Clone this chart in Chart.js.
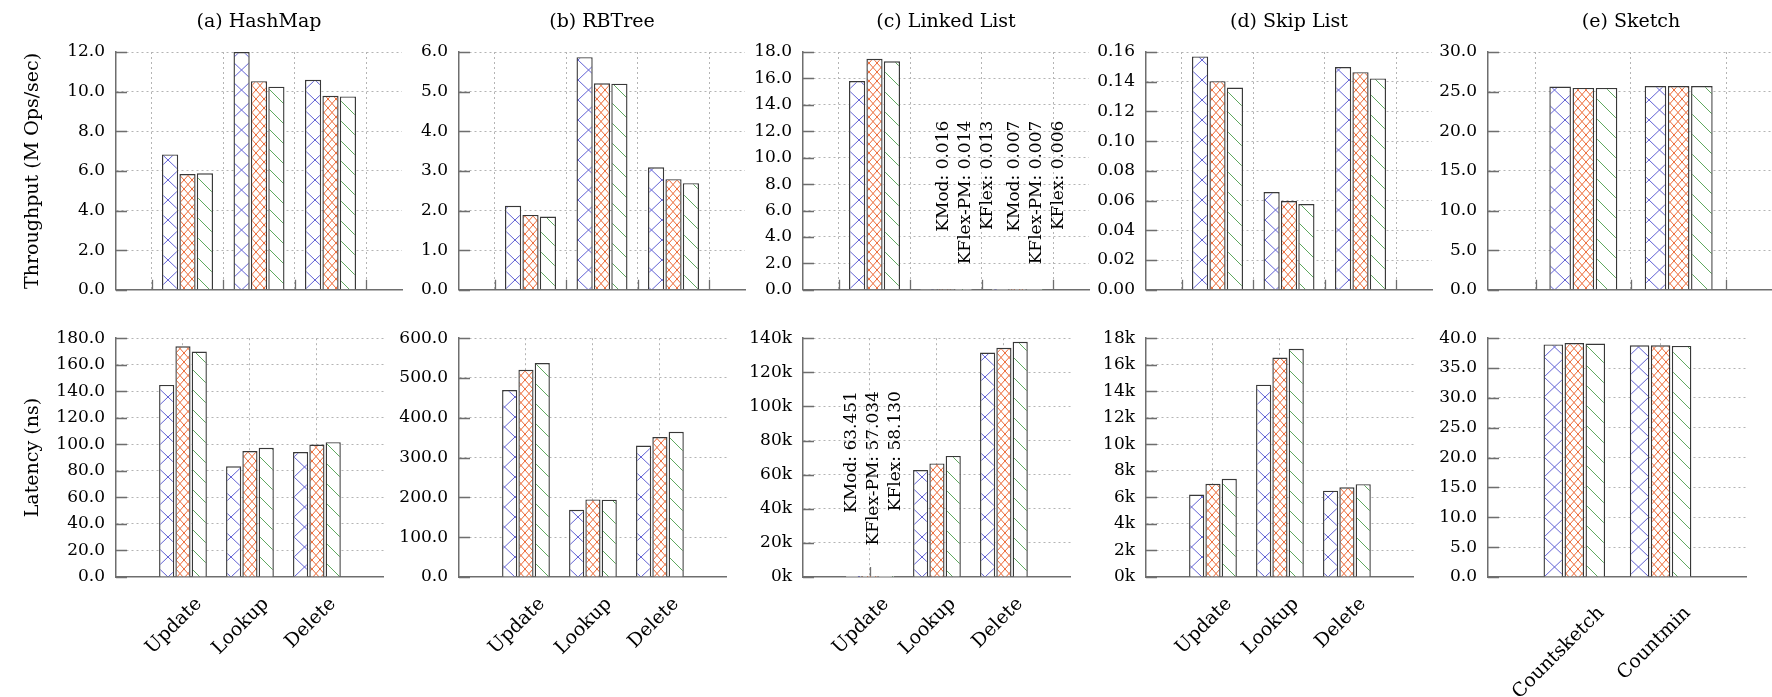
<!DOCTYPE html>
<html>
<head>
<meta charset="utf-8">
<script src="https://cdn.jsdelivr.net/npm/chart.js@4.4.1/dist/chart.umd.min.js"></script>
<style>
  html, body { margin: 0; padding: 0; background: #fff; width: 1772px; height: 697px; overflow: hidden; }
  canvas { position: absolute; }
</style>
</head>
<body>
<script>
// ---- data ----
const SERIES = ['KMod', 'KFlex-PM', 'KFlex'];
const OPS = ['Update', 'Lookup', 'Delete'];
const SKETCHES = ['Countsketch', 'Countmin'];

// one row per series (KMod, KFlex-PM, KFlex), one value per category
const hashmapTput = [[6.83, 12.0, 10.6], [5.84, 10.53, 9.79], [5.88, 10.25, 9.76]];
const rbtreeTput = [[2.12, 5.87, 3.09], [1.89, 5.21, 2.79], [1.85, 5.2, 2.69]];
const linkedTput = [[15.8, 0.016, 0.007], [17.48, 0.014, 0.007], [17.3, 0.013, 0.006]];
const skipTput = [[0.157, 0.0658, 0.1499], [0.1404, 0.0597, 0.1464], [0.1361, 0.0577, 0.1422]];
const sketchTput = [[25.64, 25.7], [25.47, 25.7], [25.47, 25.7]];

const hashmapLat = [[144.8, 83.4, 94.2], [173.9, 94.9, 99.8], [169.9, 97.4, 101.6]];
const rbtreeLat = [[469.6, 168.9, 330.3], [520.5, 195.0, 351.6], [537.7, 194.3, 364.7]];
const linkedLat = [[63.451, 62700, 131600], [57.034, 66600, 134400], [58.130, 71000, 137900]];
const skipLat = [[6220, 14500, 6510], [7030, 16540, 6760], [7400, 17200, 7000]];
const sketchLat = [[38.96, 38.8], [39.2, 38.8], [39.1, 38.7]];

const f1 = v => v.toFixed(1);
const f2 = v => v.toFixed(2);
const fk = v => (v / 1000).toFixed(0) + 'k';

const panels = [
  { col: 0, row: 0, cats: OPS, data: hashmapTput, max: 12, step: 2, fmt: f1, title: '(a) HashMap', ytitle: 'Throughput (M Ops/sec)' },
  { col: 1, row: 0, cats: OPS, data: rbtreeTput, max: 6, step: 1, fmt: f1, title: '(b) RBTree' },
  { col: 2, row: 0, cats: OPS, data: linkedTput, max: 18, step: 2, fmt: f1, title: '(c) Linked List',
    notes: [{ cat: 2, dx: 0.27, y: 12.8, digits: 3 }, { cat: 3, dx: 0.26, y: 12.8, digits: 3 }] },
  { col: 3, row: 0, cats: OPS, data: skipTput, max: 0.16, step: 0.02, fmt: f2, title: '(d) Skip List' },
  { col: 4, row: 0, cats: SKETCHES, data: sketchTput, max: 30, step: 5, fmt: f1, title: '(e) Sketch' },
  { col: 0, row: 1, cats: OPS, data: hashmapLat, max: 180, step: 20, fmt: f1, ytitle: 'Latency (ns)' },
  { col: 1, row: 1, cats: OPS, data: rbtreeLat, max: 600, step: 100, fmt: f1 },
  { col: 2, row: 1, cats: OPS, data: linkedLat, max: 140000, step: 20000, fmt: fk,
    notes: [{ cat: 1, dx: 0.05, y: 109000, digits: 3 }] },
  { col: 3, row: 1, cats: OPS, data: skipLat, max: 18000, step: 2000, fmt: fk },
  { col: 4, row: 1, cats: SKETCHES, data: sketchLat, max: 40, step: 5, fmt: f1 }
];

// ---- layout / style ----
const COL_LEFT = [116, 459, 803, 1146, 1488];
const PLOT_W = 286;
const ROWS = [{ top: 52, bottom: 295, xh: 16 }, { top: 333, bottom: 577, xh: 120 }];
const FONT = "'DejaVu Serif', 'Liberation Serif', serif";
const AXIS = '#6e6e6e';
const GRID = '#b4b4b4';
const TEXT = '#000';

function hatch(kind) {
  const c = document.createElement('canvas');
  const spec = {
    blue: { w: 21, h: 20, color: '#6262d4', cross: true },
    orange: { w: 8, h: 9, color: '#ec6a36', cross: true },
    green: { w: 20, h: 20, color: '#5fa85f', cross: false }
  }[kind];
  c.width = spec.w; c.height = spec.h;
  const g = c.getContext('2d');
  g.fillStyle = '#fff';
  g.fillRect(0, 0, spec.w, spec.h);
  g.strokeStyle = spec.color;
  g.lineWidth = 1;
  g.beginPath();
  for (let k = -1; k <= 1; k++) {
    g.moveTo(k * spec.w, 0); g.lineTo(k * spec.w + spec.w, spec.h);
    if (spec.cross) { g.moveTo(k * spec.w + spec.w, 0); g.lineTo(k * spec.w, spec.h); }
  }
  g.stroke();
  return g.createPattern(c, 'repeat');
}
const fills = [hatch('blue'), hatch('orange'), hatch('green')];

const inwardTicks = {
  id: 'inwardTicks',
  beforeDatasetsDraw(chart, args, opts) {
    const { ctx, chartArea: a, scales: { x, y } } = chart;
    ctx.save();
    ctx.strokeStyle = AXIS;
    ctx.lineWidth = 1.3;
    ctx.beginPath();
    y.ticks.forEach(t => {
      const py = Math.round(y.getPixelForValue(t.value)) + 0.5;
      ctx.moveTo(a.left, py); ctx.lineTo(a.left + 11, py);
    });
    opts.xticks.forEach(v => {
      const px = Math.round(x.getPixelForValue(v)) + 0.5;
      ctx.moveTo(px, a.bottom); ctx.lineTo(px, a.bottom - 10);
    });
    ctx.stroke();
    ctx.restore();
  }
};

const panelTitle = {
  id: 'panelTitle',
  afterDraw(chart, args, opts) {
    if (!opts.text) return;
    const { ctx, chartArea: a } = chart;
    ctx.save();
    ctx.fillStyle = TEXT;
    ctx.font = '19px ' + FONT;
    ctx.textAlign = 'center';
    ctx.textBaseline = 'middle';
    ctx.fillText(opts.text, (a.left + a.right) / 2, 22);
    ctx.restore();
  }
};

const valueNotes = {
  id: 'valueNotes',
  afterDatasetsDraw(chart, args, opts) {
    if (!opts.notes) return;
    const { ctx, scales: { x, y } } = chart;
    ctx.save();
    ctx.fillStyle = TEXT;
    ctx.font = '17px ' + FONT;
    ctx.textAlign = 'right';
    ctx.textBaseline = 'middle';
    opts.notes.forEach(n => {
      const cx = x.getPixelForValue(n.cat + n.dx);
      const py = y.getPixelForValue(n.y);
      opts.data.forEach((vals, i) => {
        ctx.save();
        ctx.translate(cx + (i - 1) * 22, py);
        ctx.rotate(-Math.PI / 2);
        ctx.fillText(SERIES[i] + ': ' + vals[n.cat - 1].toFixed(n.digits), 0, 0);
        ctx.restore();
      });
    });
    ctx.restore();
  }
};

panels.forEach(p => {
  const row = ROWS[p.row];
  const yw = p.col === 0 ? 116 : 70;
  const padTop = p.row === 0 ? row.top : 16;
  const padRight = 14;
  const plotH = row.bottom - row.top;
  const cv = document.createElement('canvas');
  const w = yw + PLOT_W + padRight;
  const h = padTop + plotH + row.xh;
  cv.width = w; cv.height = h;
  cv.style.width = w + 'px'; cv.style.height = h + 'px';
  cv.style.left = (COL_LEFT[p.col] - yw) + 'px';
  cv.style.top = (row.top - padTop) + 'px';
  document.body.appendChild(cv);

  const labels = [''].concat(p.cats, ['']);
  const n = labels.length;
  const datasets = p.data.map((vals, i) => ({
    label: SERIES[i],
    data: [null].concat(vals, [null]),
    backgroundColor: fills[i],
    borderColor: '#383838',
    borderWidth: ctx => (ctx.raw != null && ctx.raw < p.max * 0.005) ? 0 : 1.4,
    categoryPercentage: 0.73,
    barPercentage: 0.93
  }));
  const onCenters = p.row === 1;
  const xticks = [];
  for (let i = 1; i < n - 1; i++) xticks.push(onCenters ? i : i - 0.5);
  if (!onCenters) xticks.push(n - 1.5);
  const wide = p.cats.length === 2;

  new Chart(cv, {
    type: 'bar',
    data: { labels, datasets },
    plugins: [inwardTicks, valueNotes, panelTitle],
    options: {
      responsive: false,
      animation: false,
      devicePixelRatio: 1,
      layout: { padding: { top: padTop, right: padRight, left: 0, bottom: 0 } },
      plugins: {
        legend: { display: false },
        tooltip: { enabled: false },
        title: { display: false },
        panelTitle: { text: p.title },
        inwardTicks: { xticks },
        valueNotes: { notes: p.notes, data: p.data }
      },
      scales: {
        x: {
          type: 'category',
          offset: false,
          grid: {
            offset: !onCenters,
            drawTicks: false,
            color: c => (onCenters && (c.index === 0 || c.index === n - 1)) ? 'rgba(0,0,0,0)' : GRID,
            lineWidth: 1
          },
          border: { display: true, color: AXIS, width: 1.5, dash: [2, 3] },
          ticks: {
            display: p.row === 1,
            autoSkip: false,
            maxRotation: 45,
            minRotation: 45,
            padding: wide ? 25 : 16,
            labelOffset: wide ? 27 : 16,
            color: TEXT,
            font: { family: FONT, size: 19 }
          },
          afterFit: s => { s.height = row.xh; }
        },
        y: {
          min: 0,
          max: p.max,
          grid: {
            drawTicks: false,
            color: c => (c.tick && c.tick.value === 0) ? 'rgba(0,0,0,0)' : GRID,
            lineWidth: 1
          },
          border: { display: true, color: AXIS, width: 1.5, dash: [2, 3] },
          ticks: {
            stepSize: p.step,
            padding: 11,
            color: TEXT,
            font: { family: FONT, size: 17 },
            callback: v => p.fmt(v)
          },
          title: {
            display: !!p.ytitle,
            text: p.ytitle || '',
            color: TEXT,
            font: { family: FONT, size: 19, lineHeight: 1.2 },
            padding: { top: 22, bottom: 0 }
          },
          afterFit: s => { s.width = yw; }
        }
      }
    }
  });
});
</script>
</body>
</html>
